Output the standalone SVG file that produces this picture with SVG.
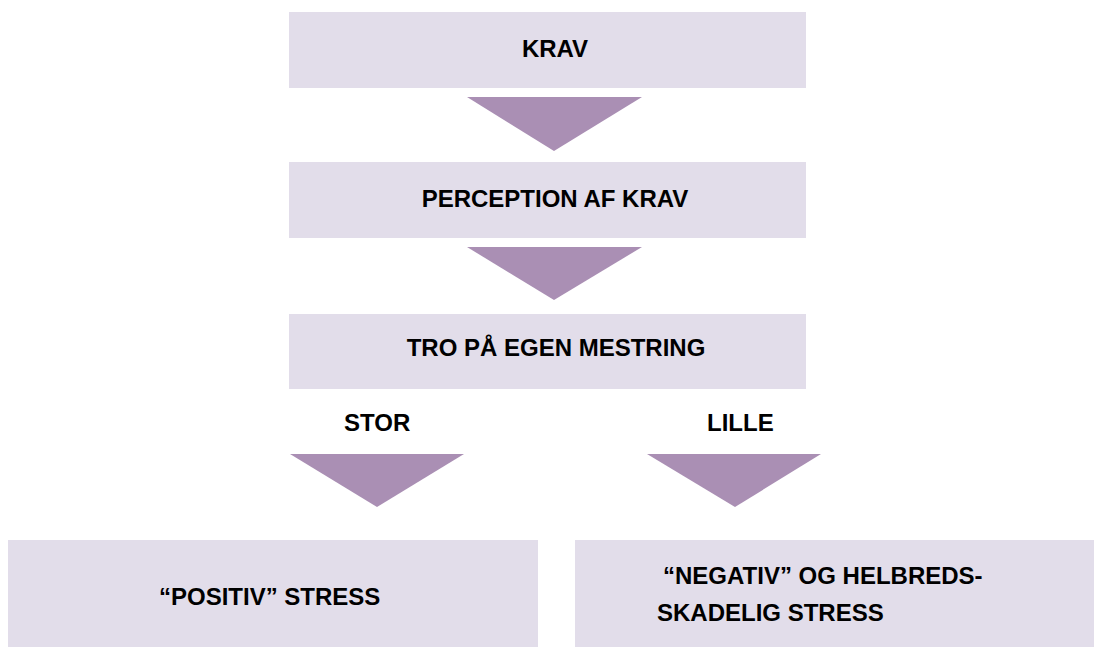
<svg xmlns="http://www.w3.org/2000/svg" width="1094" height="647" viewBox="0 0 1094 647">
<style>
.box{fill:#E2DDEA;}
.arr{fill:#AA8FB4;}
.t{font-family:"Liberation Sans",Arial,sans-serif;font-weight:bold;font-size:24px;fill:#000;}
.m{text-anchor:middle;}
</style>
<rect width="1094" height="647" fill="#ffffff"/>
<g id="krav">
<rect class="box" x="289" y="12" width="517" height="76"/>
<text class="t m" x="555" y="57">KRAV</text>
</g>
<g id="perception">
<rect class="box" x="289" y="162" width="517" height="76"/>
<text class="t m" x="555" y="207">PERCEPTION AF KRAV</text>
</g>
<g id="tro">
<rect class="box" x="289" y="314" width="517" height="75"/>
<text class="t m" x="556" y="356">TRO PÅ EGEN MESTRING</text>
</g>
<g id="positiv">
<rect class="box" x="8" y="540" width="530" height="107"/>
<text class="t" x="159" y="605">“POSITIV” STRESS</text>
</g>
<g id="negativ">
<rect class="box" x="575" y="540" width="519" height="107"/>
<text class="t" x="663" y="584">“NEGATIV” OG HELBREDS-</text>
<text class="t" x="657" y="621">SKADELIG STRESS</text>
</g>
<g id="connectors">
<polygon class="arr" points="467,97 642,97 554,151"/>
<polygon class="arr" points="467,247 642,247 554,300"/>
<polygon class="arr" points="290,454 464,454 377,507"/>
<polygon class="arr" points="647,454 821,454 735,507"/>
<text class="t" x="344" y="431">STOR</text>
<text class="t" x="707" y="431">LILLE</text>
</g>
</svg>
